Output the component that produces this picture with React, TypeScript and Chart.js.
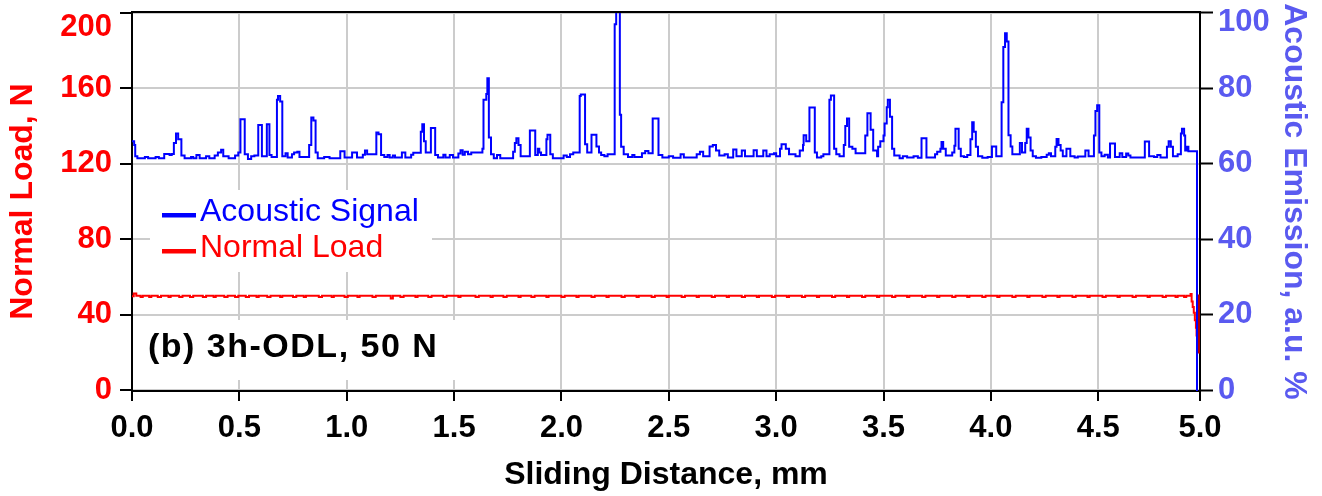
import { useEffect, useRef } from 'react';
import { Chart, registerables } from 'chart.js';

Chart.register(...registerables);

const FONT = '"Liberation Sans", Arial, Helvetica, sans-serif';

// x axis: the source axis ends slightly before 5.0 but is labelled "5.0" at its end
const X_END = 4.974;
const xTickValues = [0, 0.5, 1, 1.5, 2, 2.5, 3, 3.5, 4, 4.5, X_END];
const xTickLabels = ['0.0', '0.5', '1.0', '1.5', '2.0', '2.5', '3.0', '3.5', '4.0', '4.5', '5.0'];
const loadTicks = [0, 40, 80, 120, 160, 200];
const aeTicks = [0, 20, 40, 60, 80, 100];

const seriesNames = ['Acoustic Signal', 'Normal Load'];
const annotationText = '(b) 3h-ODL, 50 N';

// Acoustic emission (a.u. %), [sliding distance mm, value] — each value holds from its x to the next x
const aeSamples: [number, number][] = [
  [0.000, 66.0], [0.010, 65.0], [0.015, 62.0], [0.025, 61.5], [0.060, 61.8], [0.075, 61.5], [0.110, 61.8], [0.125, 61.5],
  [0.150, 62.6], [0.175, 62.3], [0.185, 62.6], [0.195, 65.5], [0.205, 68.0], [0.215, 66.5], [0.230, 62.2], [0.245, 61.5],
  [0.275, 61.8], [0.285, 61.5], [0.300, 62.3], [0.315, 61.5], [0.345, 62.0], [0.360, 61.5], [0.385, 62.2], [0.400, 63.0],
  [0.415, 63.7], [0.425, 62.0], [0.450, 61.5], [0.480, 62.2], [0.495, 63.0], [0.505, 71.8], [0.525, 62.5], [0.540, 61.3],
  [0.555, 62.0], [0.570, 62.2], [0.588, 70.3], [0.605, 62.0], [0.628, 70.5], [0.640, 62.3], [0.650, 61.8], [0.675, 77.0],
  [0.680, 78.0], [0.690, 76.5], [0.700, 62.0], [0.715, 62.8], [0.725, 61.7], [0.745, 62.5], [0.755, 63.0], [0.770, 63.2],
  [0.780, 61.8], [0.825, 65.0], [0.835, 72.3], [0.845, 71.5], [0.855, 63.0], [0.865, 61.5], [0.895, 61.8], [0.920, 61.5],
  [0.970, 63.3], [0.990, 61.7], [1.025, 63.0], [1.048, 61.7], [1.075, 62.4], [1.085, 63.5], [1.095, 62.5], [1.138, 68.3],
  [1.148, 67.8], [1.160, 62.3], [1.175, 61.8], [1.190, 62.3], [1.200, 61.7], [1.215, 62.2], [1.225, 61.7], [1.257, 63.0],
  [1.273, 61.7], [1.300, 62.4], [1.310, 62.9], [1.345, 68.5], [1.352, 70.5], [1.360, 66.0], [1.368, 63.0], [1.392, 69.5],
  [1.412, 62.3], [1.425, 61.7], [1.450, 62.4], [1.460, 61.7], [1.480, 62.3], [1.495, 61.7], [1.520, 62.7], [1.530, 63.6],
  [1.540, 62.4], [1.550, 63.2], [1.565, 62.5], [1.580, 63.0], [1.632, 64.0], [1.637, 77.0], [1.650, 78.5], [1.655, 82.7],
  [1.662, 67.0], [1.672, 62.5], [1.685, 61.5], [1.700, 62.3], [1.715, 61.5], [1.775, 63.2], [1.783, 65.5], [1.790, 66.8],
  [1.800, 65.0], [1.810, 62.0], [1.853, 68.8], [1.878, 62.3], [1.890, 64.0], [1.897, 63.0], [1.905, 62.3], [1.930, 66.5],
  [1.935, 67.7], [1.948, 62.5], [1.960, 61.5], [2.010, 62.2], [2.025, 61.8], [2.040, 62.5], [2.055, 63.0], [2.085, 78.0],
  [2.090, 78.4], [2.110, 65.2], [2.120, 63.0], [2.140, 67.7], [2.163, 64.6], [2.175, 63.0], [2.185, 62.3], [2.200, 62.0],
  [2.215, 62.5], [2.248, 97.0], [2.255, 100.5], [2.272, 73.0], [2.278, 64.5], [2.290, 62.5], [2.310, 61.8], [2.330, 62.3],
  [2.340, 61.8], [2.375, 62.8], [2.390, 63.4], [2.405, 62.8], [2.425, 72.0], [2.452, 62.3], [2.470, 61.7], [2.500, 62.0],
  [2.520, 61.6], [2.555, 62.5], [2.570, 61.7], [2.630, 62.5], [2.645, 63.2], [2.660, 62.0], [2.690, 64.6], [2.705, 65.0],
  [2.720, 63.5], [2.735, 62.2], [2.760, 62.5], [2.775, 61.7], [2.800, 63.8], [2.815, 62.0], [2.840, 63.5], [2.855, 62.0],
  [2.895, 63.6], [2.910, 62.0], [2.940, 63.5], [2.955, 62.0], [2.970, 62.5], [2.990, 62.8], [3.000, 62.0], [3.018, 64.0],
  [3.025, 65.2], [3.045, 64.0], [3.060, 62.5], [3.090, 62.0], [3.110, 63.5], [3.125, 65.0], [3.128, 67.6], [3.140, 66.0],
  [3.155, 74.9], [3.180, 63.0], [3.190, 61.7], [3.210, 62.0], [3.220, 62.5], [3.248, 77.0], [3.255, 78.1], [3.270, 64.0],
  [3.280, 62.5], [3.295, 62.0], [3.315, 65.0], [3.322, 70.0], [3.330, 72.0], [3.340, 64.5], [3.355, 64.0], [3.370, 62.8],
  [3.415, 67.5], [3.425, 73.4], [3.440, 69.0], [3.452, 63.5], [3.470, 62.0], [3.475, 64.5], [3.485, 66.0], [3.500, 67.5],
  [3.505, 70.7], [3.515, 75.0], [3.520, 77.0], [3.530, 72.5], [3.540, 64.0], [3.550, 62.2], [3.575, 61.5], [3.590, 62.0],
  [3.610, 61.7], [3.640, 62.0], [3.660, 61.6], [3.677, 66.8], [3.700, 61.7], [3.740, 62.5], [3.750, 63.2], [3.765, 64.0],
  [3.770, 65.8], [3.778, 64.0], [3.790, 62.2], [3.820, 63.0], [3.830, 64.8], [3.835, 69.3], [3.850, 64.0], [3.860, 62.0],
  [3.875, 61.8], [3.890, 62.3], [3.905, 66.5], [3.913, 71.0], [3.920, 68.5], [3.930, 64.5], [3.940, 62.0], [3.960, 61.6],
  [3.985, 61.8], [4.005, 64.6], [4.025, 62.0], [4.050, 76.3], [4.058, 91.0], [4.066, 94.6], [4.074, 92.4], [4.082, 67.6],
  [4.092, 64.6], [4.100, 62.5], [4.135, 65.5], [4.145, 63.0], [4.160, 65.5], [4.167, 69.3], [4.175, 67.0], [4.185, 63.5],
  [4.195, 62.0], [4.210, 61.6], [4.235, 61.8], [4.260, 62.4], [4.270, 62.8], [4.280, 62.0], [4.300, 64.5], [4.306, 66.6],
  [4.315, 65.0], [4.325, 63.5], [4.335, 62.0], [4.352, 64.0], [4.370, 62.0], [4.390, 61.7], [4.405, 61.9], [4.440, 63.5],
  [4.455, 62.0], [4.480, 67.5], [4.487, 74.0], [4.495, 75.5], [4.505, 63.0], [4.515, 62.0], [4.530, 62.4], [4.545, 61.7],
  [4.555, 65.4], [4.578, 61.8], [4.600, 62.8], [4.612, 61.8], [4.630, 62.7], [4.640, 62.2], [4.650, 61.7], [4.717, 65.9],
  [4.737, 62.0], [4.760, 61.8], [4.775, 62.3], [4.790, 61.7], [4.820, 64.5], [4.828, 66.0], [4.838, 64.5], [4.848, 62.0],
  [4.870, 62.5], [4.885, 68.0], [4.890, 69.3], [4.900, 67.5], [4.905, 63.5], [4.912, 64.5], [4.920, 63.3], [4.960, -1.0],
];

// Normal load (N), [sliding distance mm, value] — each value holds from its x to the next x
const loadSamples: [number, number][] = [
  [0, 49.8], [0.008, 51.2], [0.02, 50], [0.04, 49.3], [0.05, 50], [0.08, 49.3], [0.09, 50], [0.12, 49.3], [0.135, 50],
  [0.17, 49.3], [0.18, 50], [0.22, 49.3], [0.235, 50], [0.27, 49.3], [0.285, 50], [0.33, 49.3], [0.345, 50], [0.38, 49.3],
  [0.39, 50], [0.43, 49.3], [0.445, 50], [0.48, 49.3], [0.495, 50], [0.53, 49.3], [0.545, 50], [0.58, 49.3], [0.59, 50],
  [0.63, 49.3], [0.645, 50], [0.69, 49.3], [0.7, 50], [0.75, 49.3], [0.765, 50], [0.8, 49.3], [0.81, 50], [0.87, 49.3],
  [0.885, 50], [0.93, 49.3], [0.94, 50], [0.99, 49.3], [1.005, 50], [1.05, 49.3], [1.06, 50], [1.12, 49.3], [1.135, 50],
  [1.205, 48.6], [1.215, 50], [1.25, 49.3], [1.265, 50], [1.32, 49.3], [1.33, 50], [1.38, 49.3], [1.395, 50], [1.45, 49.3],
  [1.465, 50], [1.52, 49.3], [1.53, 50], [1.6, 49.3], [1.615, 50], [1.67, 49.3], [1.68, 50], [1.73, 49.3], [1.745, 50],
  [1.8, 49.3], [1.81, 50], [1.86, 49.3], [1.875, 50], [1.93, 49.3], [1.94, 50], [2.0, 49.3], [2.015, 50], [2.07, 49.3],
  [2.08, 50], [2.14, 49.3], [2.155, 50], [2.21, 49.3], [2.22, 50], [2.28, 49.3], [2.295, 50], [2.35, 49.3], [2.36, 50],
  [2.42, 49.3], [2.435, 50], [2.49, 49.3], [2.5, 50], [2.56, 49.3], [2.575, 50], [2.63, 49.3], [2.64, 50], [2.7, 49.3],
  [2.715, 50], [2.77, 49.3], [2.78, 50], [2.84, 49.3], [2.855, 50], [2.91, 49.3], [2.92, 50], [2.98, 49.3], [2.995, 50],
  [3.05, 49.3], [3.06, 50], [3.12, 49.3], [3.135, 50], [3.19, 49.3], [3.2, 50], [3.26, 49.3], [3.275, 50], [3.33, 49.3],
  [3.34, 50], [3.4, 49.3], [3.415, 50], [3.47, 49.3], [3.48, 50], [3.54, 49.3], [3.555, 50], [3.61, 49.3], [3.62, 50],
  [3.68, 49.3], [3.695, 50], [3.75, 49.3], [3.76, 50], [3.82, 49.3], [3.835, 50], [3.89, 49.3], [3.9, 50], [3.96, 49.3],
  [3.975, 50], [4.03, 49.3], [4.04, 50], [4.1, 49.3], [4.115, 50], [4.17, 49.3], [4.18, 50], [4.24, 49.3], [4.255, 50],
  [4.31, 49.3], [4.32, 50], [4.38, 49.3], [4.395, 50], [4.45, 49.3], [4.46, 50], [4.52, 49.3], [4.535, 50], [4.59, 49.3],
  [4.6, 50], [4.66, 49.3], [4.675, 50], [4.73, 49.3], [4.74, 50], [4.8, 49.3], [4.815, 50], [4.86, 49.3], [4.87, 50],
  [4.9, 49.3], [4.91, 50], [4.925, 50], [4.93, 51], [4.935, 47], [4.94, 44], [4.945, 41], [4.95, 37], [4.955, 33],
  [4.958, 29], [4.962, 25], [4.964, 22], [4.9655, 50], [4.9665, 20], [4.9675, 50], [4.9685, 20], [4.9695, 50], [4.9705, 20],
];

const AE_COLOR = '#0000ff';
const LOAD_COLOR = '#ff0000';
const LOAD_END_COLOR = '#b00000';
const RIGHT_AXIS_COLOR = '#5a5af0';
const GRID_COLOR = '#cccccc';

const decorPlugin = {
  id: 'decor',
  beforeDatasetsDraw(chart: any) {
    const { ctx, chartArea: a } = chart;
    ctx.save();
    ctx.fillStyle = '#ffffff';
    ctx.fillRect(a.left + 18, a.top + 178, 282, 82);
    ctx.fillRect(a.left + 6, a.top + 308, 334, 60);
    ctx.font = `32px ${FONT}`;
    ctx.textBaseline = 'alphabetic';
    ctx.textAlign = 'left';
    chart.data.datasets.forEach((ds: any, i: number) => {
      const baseY = a.top + 209 + i * 36;
      ctx.fillStyle = ds.borderColor;
      ctx.fillRect(a.left + 30, baseY - 8, 34, 4.5);
      ctx.fillText(ds.label, a.left + 68, baseY);
    });
    ctx.fillStyle = '#000000';
    ctx.font = `bold 34px ${FONT}`;
    try { (ctx as any).letterSpacing = '1.5px'; } catch (e) {}
    ctx.fillText(annotationText, a.left + 16, a.top + 345);
    ctx.restore();
  },
  afterDatasetsDraw(chart: any) {
    const { ctx, chartArea: a } = chart;
    ctx.save();
    ctx.strokeStyle = '#000000';
    ctx.lineWidth = 2;
    ctx.beginPath();
    ctx.moveTo(a.left - 1, a.top);
    ctx.lineTo(a.right + 1, a.top);
    ctx.stroke();
    ctx.restore();
  },
};

export default function App() {
  const ref = useRef<HTMLCanvasElement>(null);
  useEffect(() => {
    const canvas = ref.current;
    if (!canvas) return;
    const chart = new Chart(canvas, {
      type: 'line',
      data: {
        datasets: [
          {
            label: seriesNames[0],
            data: aeSamples.map(([x, y]) => ({ x, y })),
            yAxisID: 'yAE',
            borderColor: AE_COLOR,
            backgroundColor: AE_COLOR,
            borderWidth: 2,
            pointRadius: 0,
            stepped: 'before',
            fill: false,
            order: 1,
          },
          {
            label: seriesNames[1],
            data: loadSamples.map(([x, y]) => ({ x, y })),
            yAxisID: 'yLoad',
            borderColor: LOAD_COLOR,
            backgroundColor: LOAD_COLOR,
            borderWidth: 2,
            pointRadius: 0,
            stepped: 'before',
            fill: false,
            order: 2,
            segment: {
              borderColor: (c: any) => (c.p0.parsed.x >= 4.964 ? LOAD_END_COLOR : undefined),
              borderWidth: (c: any) => (c.p0.parsed.x >= 4.964 ? 2.5 : undefined),
            },
          },
        ] as any,
      },
      options: {
        animation: false,
        responsive: false,
        maintainAspectRatio: false,
        layout: { padding: { top: 12, left: 0, right: 0, bottom: 0 } },
        plugins: { legend: { display: false }, tooltip: { enabled: false } },
        scales: {
          x: {
            type: 'linear',
            position: 'bottom',
            min: 0,
            max: X_END,
            afterBuildTicks: (s: any) => {
              s.ticks = xTickValues.map((v) => ({ value: v }));
            },
            afterFit: (s: any) => {
              s.height = 105;
              s.paddingLeft = 0;
              s.paddingRight = 0;
            },
            ticks: {
              callback: (_v: any, i: number) => xTickLabels[i],
              color: '#000000',
              font: { family: FONT, size: 31, weight: 'bold' },
              padding: 9,
              autoSkip: false,
              maxRotation: 0,
            },
            grid: { color: GRID_COLOR, lineWidth: 2, tickColor: '#000000', tickLength: 10, tickWidth: 2 },
            border: { color: '#000000', width: 2 },
            title: {
              display: true,
              text: 'Sliding Distance, mm',
              color: '#000000',
              font: { family: FONT, size: 32, weight: 'bold' },
              padding: { top: 0, bottom: 2 },
            },
          },
          yLoad: {
            type: 'linear',
            position: 'left',
            min: -0.5,
            max: 200.5,
            afterBuildTicks: (s: any) => {
              s.ticks = loadTicks.map((v) => ({ value: v }));
            },
            afterFit: (s: any) => {
              s.width = 132;
              s.paddingTop = 0;
              s.paddingBottom = 0;
            },
            ticks: {
              // the top label sits a little below its tick in the source
              callback: (v: number) => (v === loadTicks[loadTicks.length - 1] ? ['', String(v)] : String(v)),
              color: LOAD_COLOR,
              font: { family: FONT, size: 31, weight: 'bold', lineHeight: 0.92 },
              padding: 8,
              autoSkip: false,
            },
            grid: { color: GRID_COLOR, lineWidth: 2, tickColor: '#000000', tickLength: 12, tickWidth: 2 },
            border: { color: '#000000', width: 2 },
            title: {
              display: true,
              text: 'Normal Load, N',
              color: LOAD_COLOR,
              font: { family: FONT, size: 32, weight: 'bold' },
              padding: { top: 4, bottom: 0 },
            },
          },
          yAE: {
            type: 'linear',
            position: 'right',
            min: -0.25,
            max: 100.25,
            afterBuildTicks: (s: any) => {
              s.ticks = aeTicks.map((v) => ({ value: v }));
            },
            afterFit: (s: any) => {
              s.width = 122;
              s.paddingTop = 0;
              s.paddingBottom = 0;
            },
            ticks: {
              callback: (v: number) => (v === aeTicks[aeTicks.length - 1] ? ['', String(v)] : String(v)),
              color: RIGHT_AXIS_COLOR,
              font: { family: FONT, size: 31, weight: 'bold', lineHeight: 0.63 },
              padding: 5,
              autoSkip: false,
            },
            grid: { drawOnChartArea: false, tickColor: '#000000', tickLength: 13, tickWidth: 2 },
            border: { color: '#000000', width: 2 },
            title: {
              display: true,
              text: 'Acoustic Emission, a.u. %',
              color: RIGHT_AXIS_COLOR,
              font: { family: FONT, size: 32, weight: 'bold' },
              padding: { top: 9, bottom: 0 },
            },
          },
        },
      } as any,
      plugins: [decorPlugin],
    });
    return () => chart.destroy();
  }, []);

  return (
    <div style={{ position: 'fixed', left: 0, top: 0, width: 1322, height: 496, background: '#ffffff' }}>
      <canvas ref={ref} width={1322} height={496} style={{ display: 'block', width: 1322, height: 496 }} />
    </div>
  );
}
